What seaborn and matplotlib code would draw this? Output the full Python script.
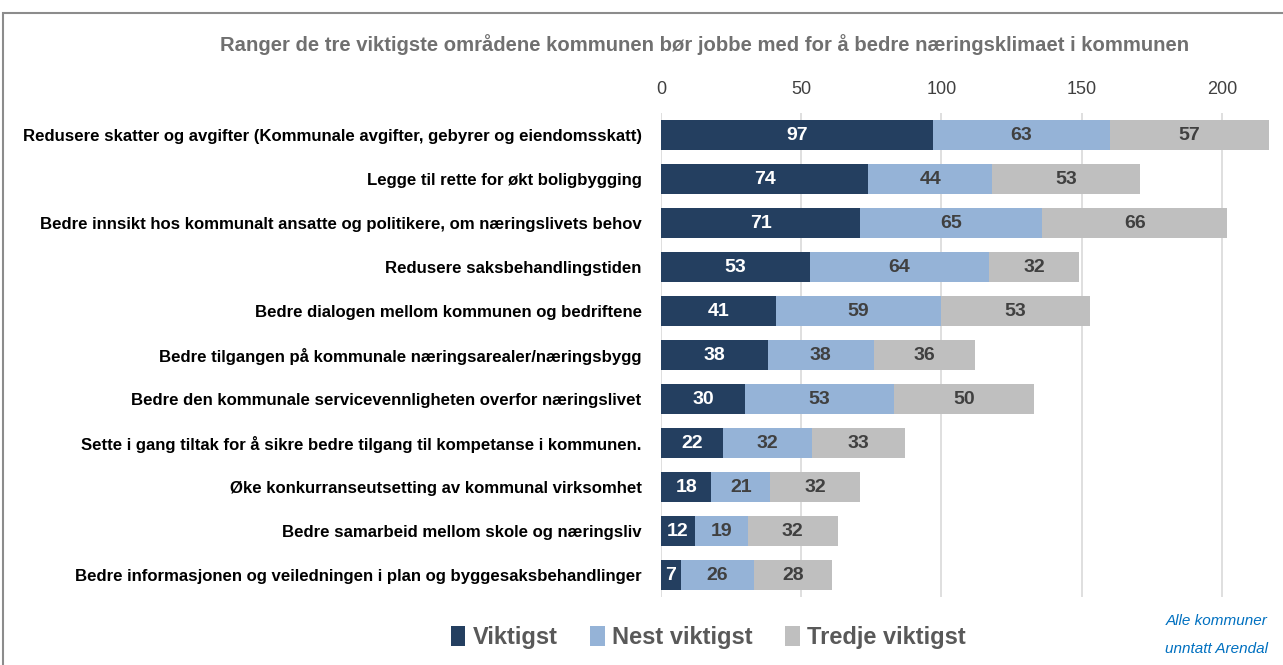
import matplotlib
matplotlib.use("Agg")
import matplotlib.pyplot as plt
import seaborn as sns
import pandas as pd
import numpy as np
from matplotlib.patches import Rectangle, Patch

categories = [
    "Redusere skatter og avgifter (Kommunale avgifter, gebyrer og eiendomsskatt)",
    "Legge til rette for økt boligbygging",
    "Bedre innsikt hos kommunalt ansatte og politikere, om næringslivets behov",
    "Redusere saksbehandlingstiden",
    "Bedre dialogen mellom kommunen og bedriftene",
    "Bedre tilgangen på kommunale næringsarealer/næringsbygg",
    "Bedre den kommunale servicevennligheten overfor næringslivet",
    "Sette i gang tiltak for å sikre bedre tilgang til kompetanse i kommunen.",
    "Øke konkurranseutsetting av kommunal virksomhet",
    "Bedre samarbeid mellom skole og næringsliv",
    "Bedre informasjonen og veiledningen i plan og byggesaksbehandlinger",
]
viktigst = [97, 74, 71, 53, 41, 38, 30, 22, 18, 12, 7]
nest_viktigst = [63, 44, 65, 64, 59, 38, 53, 32, 21, 19, 26]
tredje_viktigst = [57, 53, 66, 32, 53, 36, 50, 33, 32, 32, 28]
series_names = ["Viktigst", "Nest viktigst", "Tredje viktigst"]
ticks = [0, 50, 100, 150, 200]

colors = ["#243F60", "#95B3D7", "#BFBFBF"]
label_colors = ["white", "#404040", "#404040"]

sns.set_theme(style="white")
plt.rcParams['font.family'] = ['Liberation Sans', 'DejaVu Sans']

df = pd.DataFrame({"cat": categories, "v": viktigst, "n": nest_viktigst, "t": tredje_viktigst})
df["c1"] = df["v"]
df["c2"] = df["v"] + df["n"]
df["c3"] = df["c2"] + df["t"]

fig = plt.figure(figsize=(12.83, 6.65), dpi=100)
ax = fig.add_axes([0.5152, 0.1023, 0.996 - 0.5152, 0.830 - 0.1023])

for col, c in zip(["c3", "c2", "c1"], colors[::-1]):
    sns.barplot(data=df, x=col, y="cat", color=c, orient="h", width=0.68,
                ax=ax, saturation=1, zorder=3, linewidth=0, edgecolor="none")

ax.set_xlim(0, 220)
ax.set_xticks(ticks)
ax.xaxis.tick_top()
ax.tick_params(axis="x", length=0, labelsize=13, labelcolor="#404040", pad=11)
ax.tick_params(axis="y", length=0, labelsize=12.1, pad=14)
for lab in ax.get_yticklabels():
    lab.set_fontweight("bold")
    lab.set_color("black")
ax.set_xlabel("")
ax.set_ylabel("")
for s in ax.spines.values():
    s.set_visible(False)
ax.grid(axis="x", color="#D9D9D9", linewidth=1.2, zorder=0)
ax.set_axisbelow(True)

vals = [viktigst, nest_viktigst, tredje_viktigst]
starts = [np.zeros(len(viktigst)), np.array(viktigst), np.array(viktigst) + np.array(nest_viktigst)]
for i in range(3):
    for j in range(len(categories)):
        ax.text(starts[i][j] + vals[i][j] / 2, j + 0.02, str(vals[i][j]), ha="center", va="center",
                color=label_colors[i], fontsize=14, fontweight="bold", zorder=5)

handles = [Patch(facecolor=c, edgecolor="none") for c in colors]
leg = fig.legend(handles, series_names, loc="center", bbox_to_anchor=(0.552, 0.041), ncol=3,
                 frameon=False, fontsize=17, handlelength=0.6, handleheight=0.9,
                 handletextpad=0.3, columnspacing=1.4)
for t in leg.get_texts():
    t.set_color("#595959")
    t.set_fontweight("bold")

fig.text(0.549, 0.933, "Ranger de tre viktigste områdene kommunen bør jobbe med for å bedre næringsklimaet i kommunen",
         ha="center", va="center", fontsize=14.6, fontweight="bold", color="#707070")

fig.text(0.948, 0.066, "Alle kommuner", ha="center", va="center", fontsize=11,
         style="italic", color="#0070C0")
fig.text(0.948, 0.024, "unntatt Arendal", ha="center", va="center", fontsize=11,
         style="italic", color="#0070C0")

fig.patches.append(Rectangle((3 / 1283, -0.1), 1.2, 1.1 - 13 / 665, transform=fig.transFigure,
                             fill=False, edgecolor="#8C8C8C", linewidth=1.5))

fig.savefig("out.png", dpi=100)
